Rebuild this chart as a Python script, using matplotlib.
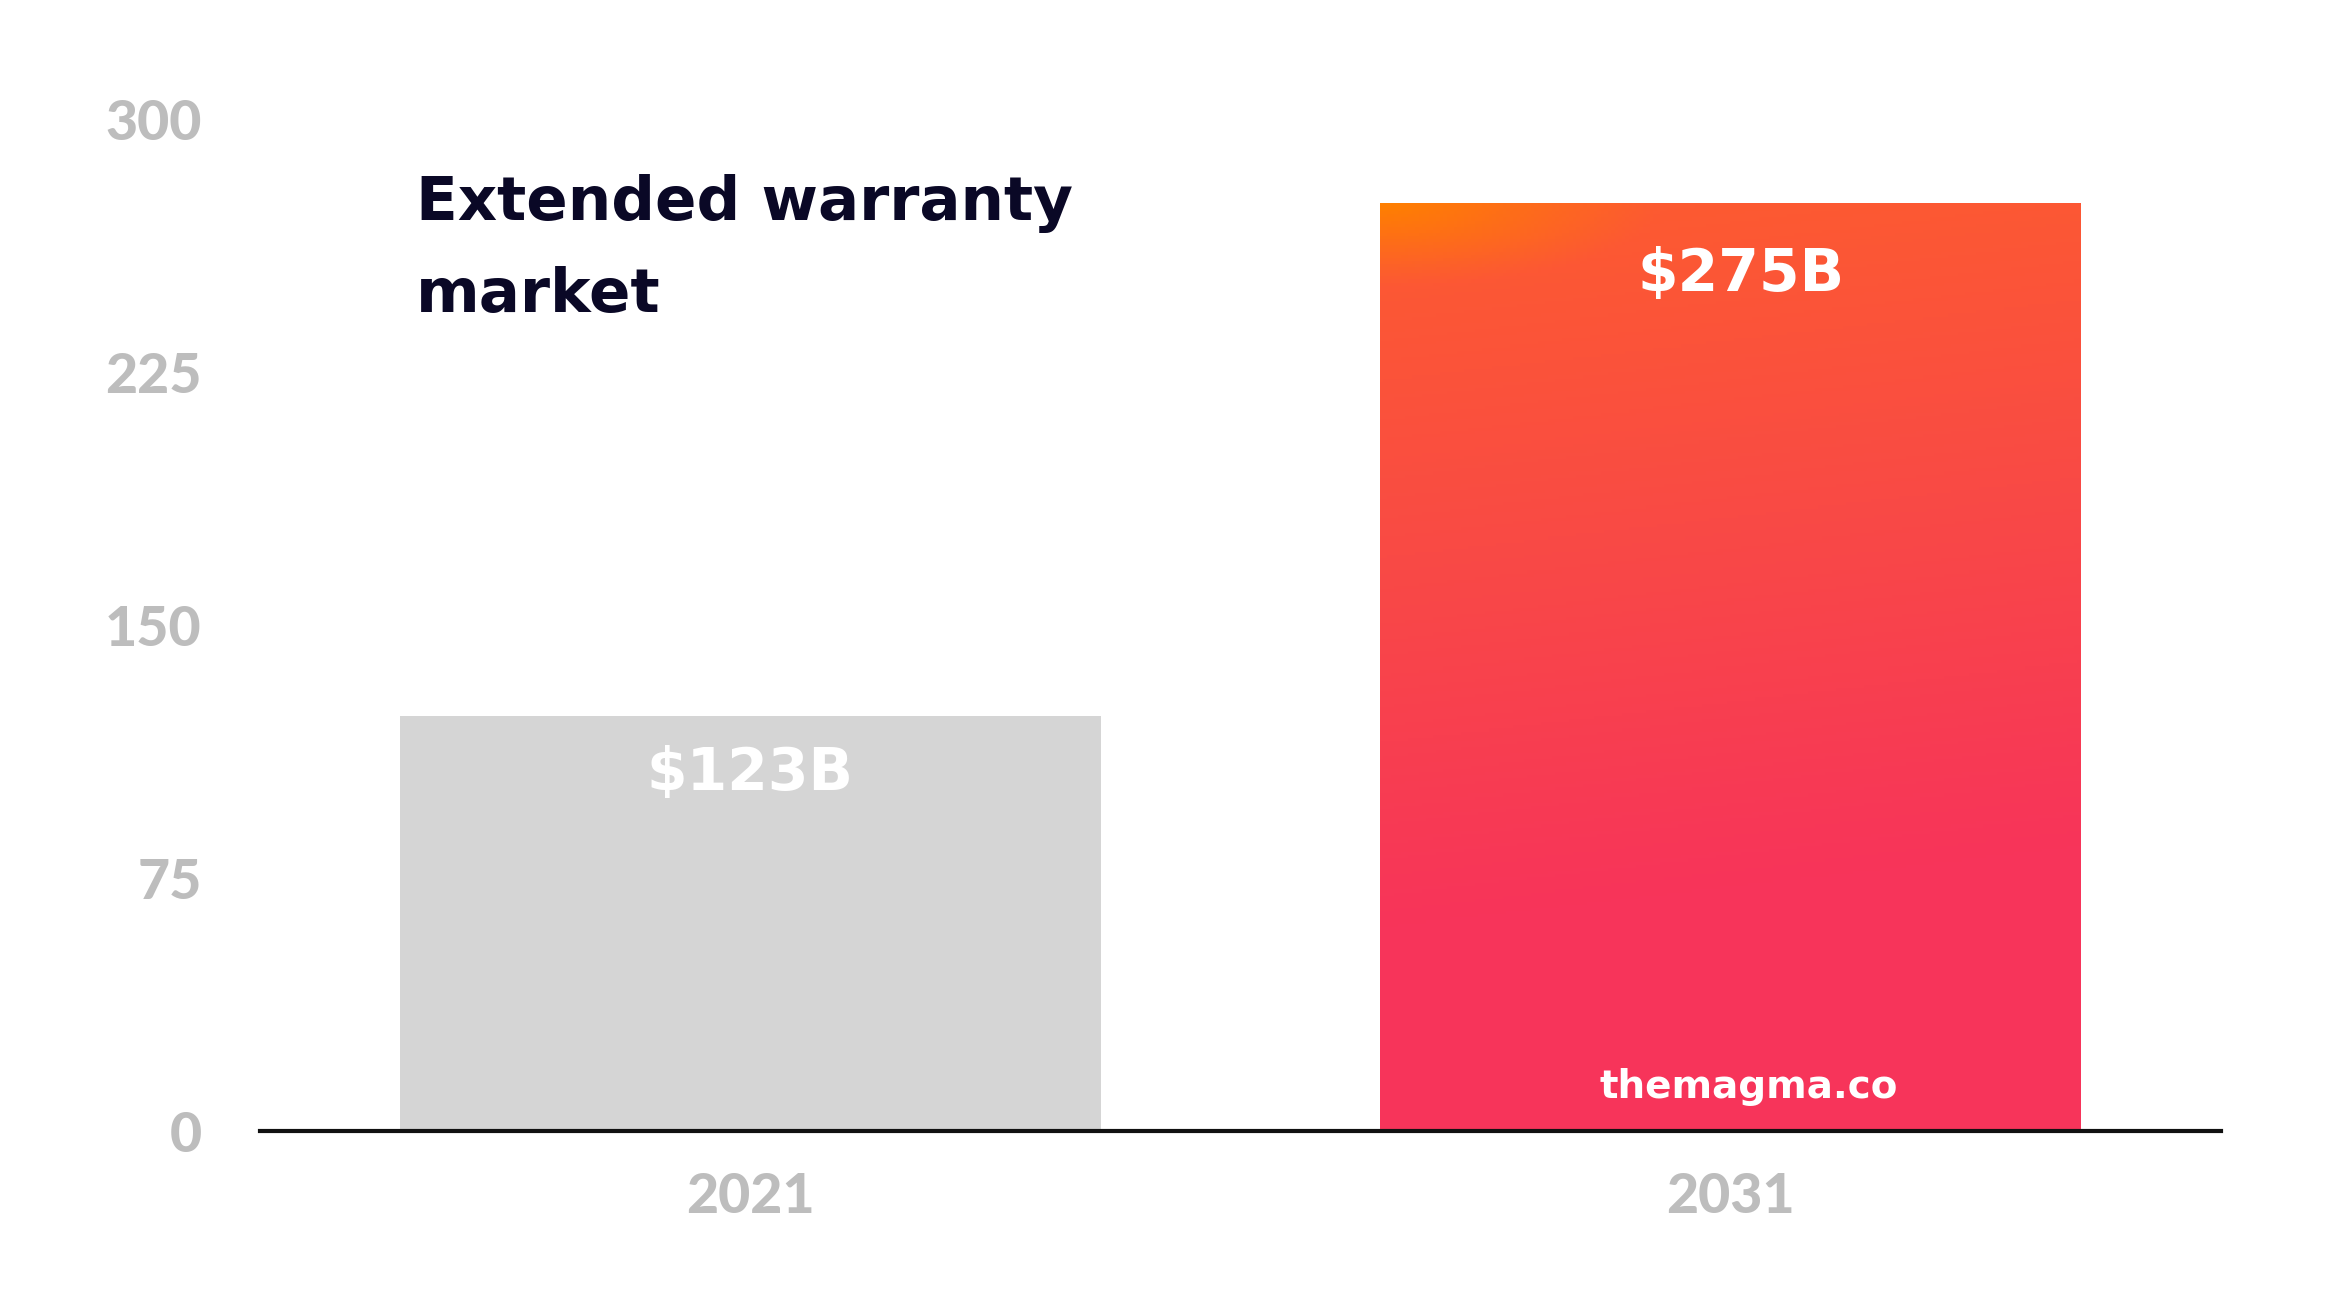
import matplotlib
matplotlib.use("Agg")
import matplotlib.pyplot as plt
import numpy as np
from matplotlib.colors import LinearSegmentedColormap, to_rgb

# ─── Data ──────────────────────────────────────────────────────────────────
years = ["2021", "2031"]
market_size = [123, 275]  # $B
value_labels = ["$123B", "$275B"]
y_ticks = [0, 75, 150, 225, 300]

TITLE_LINES = ["Extended warranty", "market"]
WATERMARK = "themagma.co"

GREY_BAR = "#d5d5d5"
TICK_COLOR = "#bdbdbd"
TITLE_COLOR = "#0a0826"

# label offsets (points) relative to each bar's top centre
label_offsets = [(0, -53), (8, -63)]

fig = plt.figure(figsize=(23.48, 13.08), dpi=100)
ax = fig.add_axes([0.1107, 0.135, 0.835, 0.774])

x = np.arange(len(years))
bars = ax.bar(x, market_size, width=0.715, color=[GREY_BAR, "none"], edgecolor="none", zorder=2)

# ── Gradient fill for the second bar (orange corner -> coral -> pink-red) ──
grad = LinearSegmentedColormap.from_list(
    "magma_bar",
    [(0.0, "#fd5c2f"), (0.35, "#f94a45"), (0.72, "#f7345a"), (1.0, "#f7345a")],
)
ny, nx = 300, 200
yy, xx = np.mgrid[0:1:ny * 1j, 0:1:nx * 1j]  # yy = 0 at top
base = grad(np.clip(yy * 0.92 + xx * 0.08, 0, 1))[..., :3]
orange = np.array(to_rgb("#ff8000"))
w = np.clip(1 - np.sqrt((xx / 0.4) ** 2 + (yy / 0.09) ** 2), 0, 1) ** 1.1
img = base * (1 - w[..., None]) + orange * w[..., None]

b = bars[1]
im = ax.imshow(
    img,
    extent=(b.get_x(), b.get_x() + b.get_width(), 0, b.get_height()),
    aspect="auto",
    origin="upper",
    zorder=2,
)
im.set_clip_path(b)

# ── Axes styling ──
ax.set_xlim(-0.5, 1.5)
ax.set_ylim(0, 300)
for side in ["top", "right", "left"]:
    ax.spines[side].set_visible(False)
ax.spines["bottom"].set_linewidth(3)
ax.spines["bottom"].set_color("#111111")
ax.spines["bottom"].set_zorder(3)

ax.set_xticks(x)
ax.set_xticklabels(years)
ax.set_yticks(y_ticks)
ax.set_yticklabels([str(t) for t in y_ticks])
ax.tick_params(axis="both", length=0, labelcolor=TICK_COLOR, labelsize=40)
ax.tick_params(axis="y", pad=42)
ax.tick_params(axis="x", pad=29)
for lab in ax.get_xticklabels() + ax.get_yticklabels():
    lab.set_family("Lato")
    lab.set_fontweight(900)

# ── Value labels inside the bars ──
for i, (v, lab) in enumerate(zip(market_size, value_labels)):
    ax.annotate(
        lab,
        (x[i], v),
        xytext=label_offsets[i],
        textcoords="offset points",
        ha="center",
        va="baseline",
        color="white",
        fontsize=42,
        fontweight="bold",
        family="DejaVu Sans",
        zorder=4,
    )

ax.annotate(
    WATERMARK,
    (x[1], 0),
    xytext=(13, 24),
    textcoords="offset points",
    ha="center",
    va="baseline",
    color="white",
    fontsize=28,
    fontweight="bold",
    family="DejaVu Sans",
    zorder=4,
)

# ── Title ──
fig.text(0.1772, 0.8318, TITLE_LINES[0], ha="left", va="baseline",
         fontsize=44, fontweight="bold", color=TITLE_COLOR, family="DejaVu Sans")
fig.text(0.1772, 0.7615, TITLE_LINES[1], ha="left", va="baseline",
         fontsize=44, fontweight="bold", color=TITLE_COLOR, family="DejaVu Sans")

fig.savefig("out.png", dpi=100, facecolor="white")
